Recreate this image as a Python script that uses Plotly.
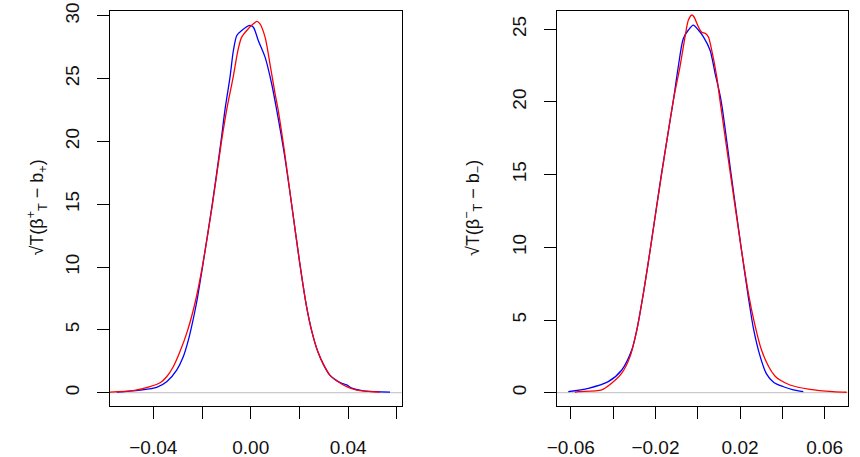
import plotly.graph_objects as go

# ---- data ----
left_blue_x = [-0.0550, -0.0455, -0.0386, -0.0345, -0.0304, -0.0277, -0.0256, -0.0246, -0.0222, -0.0198,
               -0.0158, -0.0122, -0.0106, -0.0085, -0.0071, -0.0057, -0.0037, -0.0003, 0.0011, 0.0031,
               0.0059, 0.0086, 0.0107, 0.0138, 0.0168, 0.0200, 0.0228, 0.0252, 0.0275, 0.0300,
               0.0325, 0.0350, 0.0370, 0.0394, 0.0415, 0.0470, 0.0572]
left_blue_y = [0.05, 0.21, 0.43, 0.87, 1.80, 2.86, 4.19, 4.98, 7.2, 10.0,
               15.0, 20.0, 22.47, 25.12, 27.24, 28.43, 28.83, 29.23, 29.09, 28.04,
               26.71, 24.59, 22.47, 19.0, 15.0, 10.5, 7.0, 4.8, 3.3, 2.2,
               1.4, 1.0, 0.78, 0.62, 0.36, 0.13, 0.05]

left_red_x = [-0.0578, -0.0482, -0.0414, -0.0372, -0.0345, -0.0318, -0.0290, -0.0260, -0.0228, -0.0199,
              -0.0157, -0.0120, -0.0098, -0.0072, -0.0051, -0.0037, -0.0010, 0.0011, 0.0025, 0.0038,
              0.0059, 0.0079, 0.0100, 0.0113, 0.0140, 0.0168, 0.0200, 0.0228, 0.0252, 0.0275,
              0.0300, 0.0325, 0.0353, 0.0394, 0.0435, 0.0530]
left_red_y = [0.05, 0.16, 0.48, 0.79, 1.27, 2.07, 3.30, 4.9, 7.2, 10.0,
              15.0, 20.0, 22.6, 25.12, 27.38, 28.30, 28.97, 29.36, 29.55, 29.36,
              28.30, 26.18, 23.80, 22.47, 19.0, 15.0, 10.5, 7.0, 4.8, 3.3,
              2.2, 1.4, 0.95, 0.48, 0.21, 0.05]

right_blue_x = [-0.0612, -0.0517, -0.0423, -0.0359, -0.0312, -0.0288, -0.0255, -0.0223, -0.0172, -0.0115,
                -0.0092, -0.0068, -0.0044, -0.0021, 0.0003, 0.0027, 0.0058, 0.0082, 0.0110, 0.0158,
                0.0205, 0.0240, 0.0265, 0.0295, 0.0325, 0.0360, 0.0405, 0.0452, 0.0499]
right_blue_y = [0.07, 0.30, 0.76, 1.56, 2.93, 4.31, 7.0, 10.0, 15.0, 20.13,
                22.42, 24.37, 24.95, 25.29, 24.95, 24.48, 23.57, 21.97, 20.13, 15.0,
                10.0, 6.5, 4.3, 2.5, 1.3, 0.7, 0.41, 0.19, 0.07]

right_red_x = [-0.0580, -0.0565, -0.0454, -0.0407, -0.0359, -0.0320, -0.0288, -0.0255, -0.0223, -0.0171,
               -0.0115, -0.0084, -0.0060, -0.0044, -0.0028, -0.0018, 0.0003, 0.0019, 0.0035, 0.0050,
               0.0066, 0.0090, 0.0105, 0.0155, 0.0205, 0.0240, 0.0268, 0.0300, 0.0335, 0.0365,
               0.0389, 0.0436, 0.0530, 0.0640, 0.0704]
right_red_y = [0.03, 0.07, 0.19, 0.65, 1.34, 2.48, 4.31, 7.0, 10.0, 15.0,
               20.13, 22.42, 24.48, 25.63, 25.98, 25.86, 25.17, 24.79, 24.72, 24.48,
               23.57, 21.73, 20.13, 15.0, 10.0, 6.8, 4.8, 3.0, 1.8, 1.15,
               0.87, 0.53, 0.23, 0.07, 0.03]

left_xticks = [-0.04, -0.02, 0.0, 0.02, 0.04, 0.06]
left_xticktext = ["\u22120.04", "", "0.00", "", "0.04", ""]
right_xticks = [-0.06, -0.04, -0.02, 0.0, 0.02, 0.04, 0.06]
right_xticktext = ["\u22120.06", "", "\u22120.02", "", "0.02", "", "0.06"]
left_yticks = [0, 5, 10, 15, 20, 25, 30]
right_yticks = [0, 5, 10, 15, 20, 25]

left_ylabel = "\u221aT(\u03b2<sup>+</sup><sub>T</sub> \u2212 b<sub>+</sub>)"
right_ylabel = "\u221aT(\u03b2<sup>\u2212</sup><sub>T</sub> \u2212 b<sub>\u2212</sub>)"

FONT = "Liberation Sans, Arial, sans-serif"
W, H = 860, 457

fig = go.Figure()
line_w = 1.3
for xs, ys, col, xa, ya in [
    (left_blue_x, left_blue_y, "#0000ff", "x", "y"),
    (left_red_x, left_red_y, "#ff0000", "x", "y"),
    (right_blue_x, right_blue_y, "#0000ff", "x2", "y2"),
    (right_red_x, right_red_y, "#ff0000", "x2", "y2"),
]:
    fig.add_trace(go.Scatter(x=xs, y=ys, mode="lines", xaxis=xa, yaxis=ya,
                             line=dict(color=col, width=line_w, shape="spline", smoothing=0.8)))

ydom = [1 - 406 / H, 1 - 10.5 / H]

def xax(dom, rng, tv, tt, anchor):
    return dict(domain=dom, anchor=anchor, range=rng, tickvals=tv, ticktext=tt, showline=True,
                mirror=True, linecolor="#000", linewidth=1, ticks="outside", ticklen=12,
                tickcolor="#000", tickwidth=1, showgrid=False, zeroline=False, fixedrange=True,
                automargin=False,
                tickfont=dict(family=FONT, size=19, color="#111"), ticklabelstandoff=12)

def yax(anchor, rng, tv):
    return dict(domain=ydom, anchor=anchor, range=rng, tickvals=tv, ticktext=[str(v) for v in tv],
                showline=True, mirror=True, linecolor="#000", linewidth=1, ticks="outside",
                ticklen=12, tickcolor="#000", tickwidth=1, showgrid=False, zeroline=False,
                fixedrange=True, tickangle=-90, automargin=False,
                tickfont=dict(family=FONT, size=19, color="#111"), ticklabelstandoff=10)

fig.update_layout(
    width=W, height=H, margin=dict(l=0, r=0, t=0, b=0, autoexpand=False),
    paper_bgcolor="white", plot_bgcolor="white", showlegend=False,
    xaxis=xax([110 / W, 401.7 / W], [-0.05778, 0.0620], left_xticks, left_xticktext, "y"),
    yaxis=yax("x", [-1.057, 30.42], left_yticks),
    xaxis2=xax([556.7 / W, 847.7 / W], [-0.06667, 0.0709], right_xticks, right_xticktext, "y2"),
    yaxis2=yax("x2", [-0.915, 26.29], right_yticks),
    shapes=[
        dict(type="line", xref="x domain", yref="y", x0=0, x1=1, y0=0, y1=0,
             line=dict(color="#bebebe", width=1), layer="below"),
        dict(type="line", xref="x2 domain", yref="y2", x0=0, x1=1, y0=0, y1=0,
             line=dict(color="#bebebe", width=1), layer="below"),
    ],
    annotations=[
        dict(text=left_ylabel, xref="paper", yref="paper", x=22 / W, y=1 - 208 / H,
             textangle=-90, showarrow=False, font=dict(family=FONT, size=18, color="#111")),
        dict(text=right_ylabel, xref="paper", yref="paper", x=472 / W, y=1 - 208 / H,
             textangle=-90, showarrow=False, font=dict(family=FONT, size=18, color="#111")),
    ],
)

fig.write_html("out.html")
